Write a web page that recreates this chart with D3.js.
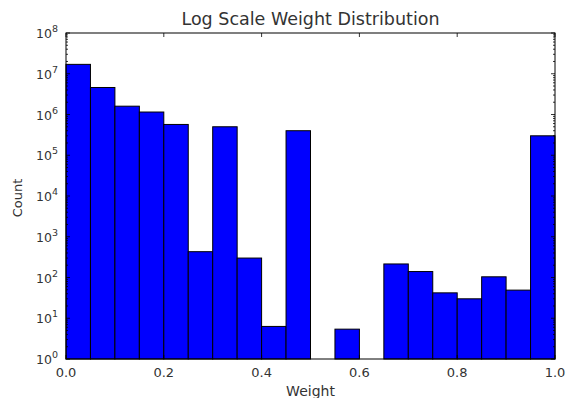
<!DOCTYPE html>
<meta charset="utf-8">
<script src="https://d3js.org/d3.v7.min.js"></script>
<style>
  body { margin: 0; background: #fff; }
  text { font-family: "DejaVu Sans", sans-serif; fill: #333; }
</style>
<div id="my_dataviz"></div>
<script>
// histogram bins (20 bins on [0,1]) and counts
var binEdges = [0, 0.05, 0.1, 0.15, 0.2, 0.25, 0.3, 0.35, 0.4, 0.45, 0.5,
                0.55, 0.6, 0.65, 0.7, 0.75, 0.8, 0.85, 0.9, 0.95, 1.0];
var counts = [1.7e7, 4.6e6, 1.6e6, 1.15e6, 5.7e5, 430, 5.0e5, 300, 6.3, 4.0e5,
              0, 5.4, 0, 215, 140, 42, 30, 104, 49, 3.0e5];
var xTicks = [0, 0.2, 0.4, 0.6, 0.8, 1.0];
var yExponents = [0, 1, 2, 3, 4, 5, 6, 7, 8];

var margin = {top: 33, right: 11, bottom: 39, left: 66},
    width = 566 - margin.left - margin.right,
    height = 398 - margin.top - margin.bottom;

var svg = d3.select("#my_dataviz")
  .append("svg")
    .attr("width", 566)
    .attr("height", 398)
  .append("g")
    .attr("transform", "translate(" + margin.left + "," + margin.top + ")");

var x = d3.scaleLinear().domain([0, 1]).range([0, width]);
var y = d3.scaleLog().domain([1, 1e8]).range([height, 0]);

// bars (empty bins are skipped)
var bins = counts.map(function(c, i) { return {x0: binEdges[i], x1: binEdges[i + 1], c: c}; })
  .filter(function(d) { return d.c > 1; });
svg.append("g").selectAll("rect")
  .data(bins)
  .enter()
  .append("rect")
    .attr("x", function(d) { return x(d.x0); })
    .attr("width", function(d) { return x(d.x1) - x(d.x0); })
    .attr("y", function(d) { return y(d.c); })
    .attr("height", function(d) { return height - y(d.c); })
    .style("fill", "#0000ff")
    .style("stroke", "#000")
    .style("stroke-width", 1);

// frame
svg.append("rect")
  .attr("width", width).attr("height", height)
  .style("fill", "none").style("stroke", "#000").style("stroke-width", 1);

// inward ticks on all sides
var tickG = svg.append("g").style("stroke", "#000").style("stroke-width", 0.8);
xTicks.forEach(function(t) {
  tickG.append("line").attr("x1", x(t)).attr("x2", x(t)).attr("y1", height).attr("y2", height - 4);
  tickG.append("line").attr("x1", x(t)).attr("x2", x(t)).attr("y1", 0).attr("y2", 4);
});
yExponents.forEach(function(e) {
  var v = Math.pow(10, e);
  tickG.append("line").attr("x1", 0).attr("x2", 4).attr("y1", y(v)).attr("y2", y(v));
  tickG.append("line").attr("x1", width).attr("x2", width - 4).attr("y1", y(v)).attr("y2", y(v));
  if (e < 8) {
    for (var k = 2; k < 10; k++) {
      var yy = y(k * v);
      tickG.append("line").attr("x1", 0).attr("x2", 2).attr("y1", yy).attr("y2", yy);
      tickG.append("line").attr("x1", width).attr("x2", width - 2).attr("y1", yy).attr("y2", yy);
    }
  }
});

// x tick labels
svg.append("g").selectAll("text")
  .data(xTicks)
  .enter()
  .append("text")
    .attr("x", function(d) { return x(d); })
    .attr("y", height + 18)
    .attr("text-anchor", "middle")
    .style("font-size", "13px")
    .text(function(d) { return d.toFixed(1); });

// y tick labels 10^n
var yl = svg.append("g").selectAll("text")
  .data(yExponents)
  .enter()
  .append("text")
    .attr("x", -8)
    .attr("y", function(d) { return y(Math.pow(10, d)) + 5; })
    .attr("text-anchor", "end")
    .style("font-size", "12.5px");
yl.append("tspan").text("10");
yl.append("tspan")
  .attr("dy", -6)
  .style("font-size", "9.5px")
  .text(function(d) { return d; });

// axis labels and title
svg.append("text")
  .attr("x", width / 2).attr("y", height + 37)
  .attr("text-anchor", "middle")
  .style("font-size", "14px")
  .text("Weight");

svg.append("text")
  .attr("transform", "translate(" + (-44) + "," + (height / 2 + 2) + ") rotate(-90)")
  .attr("text-anchor", "middle")
  .style("font-size", "13px")
  .text("Count");

svg.append("text")
  .attr("x", width / 2).attr("y", -8)
  .attr("text-anchor", "middle")
  .style("font-size", "17.5px")
  .text("Log Scale Weight Distribution");
</script>
